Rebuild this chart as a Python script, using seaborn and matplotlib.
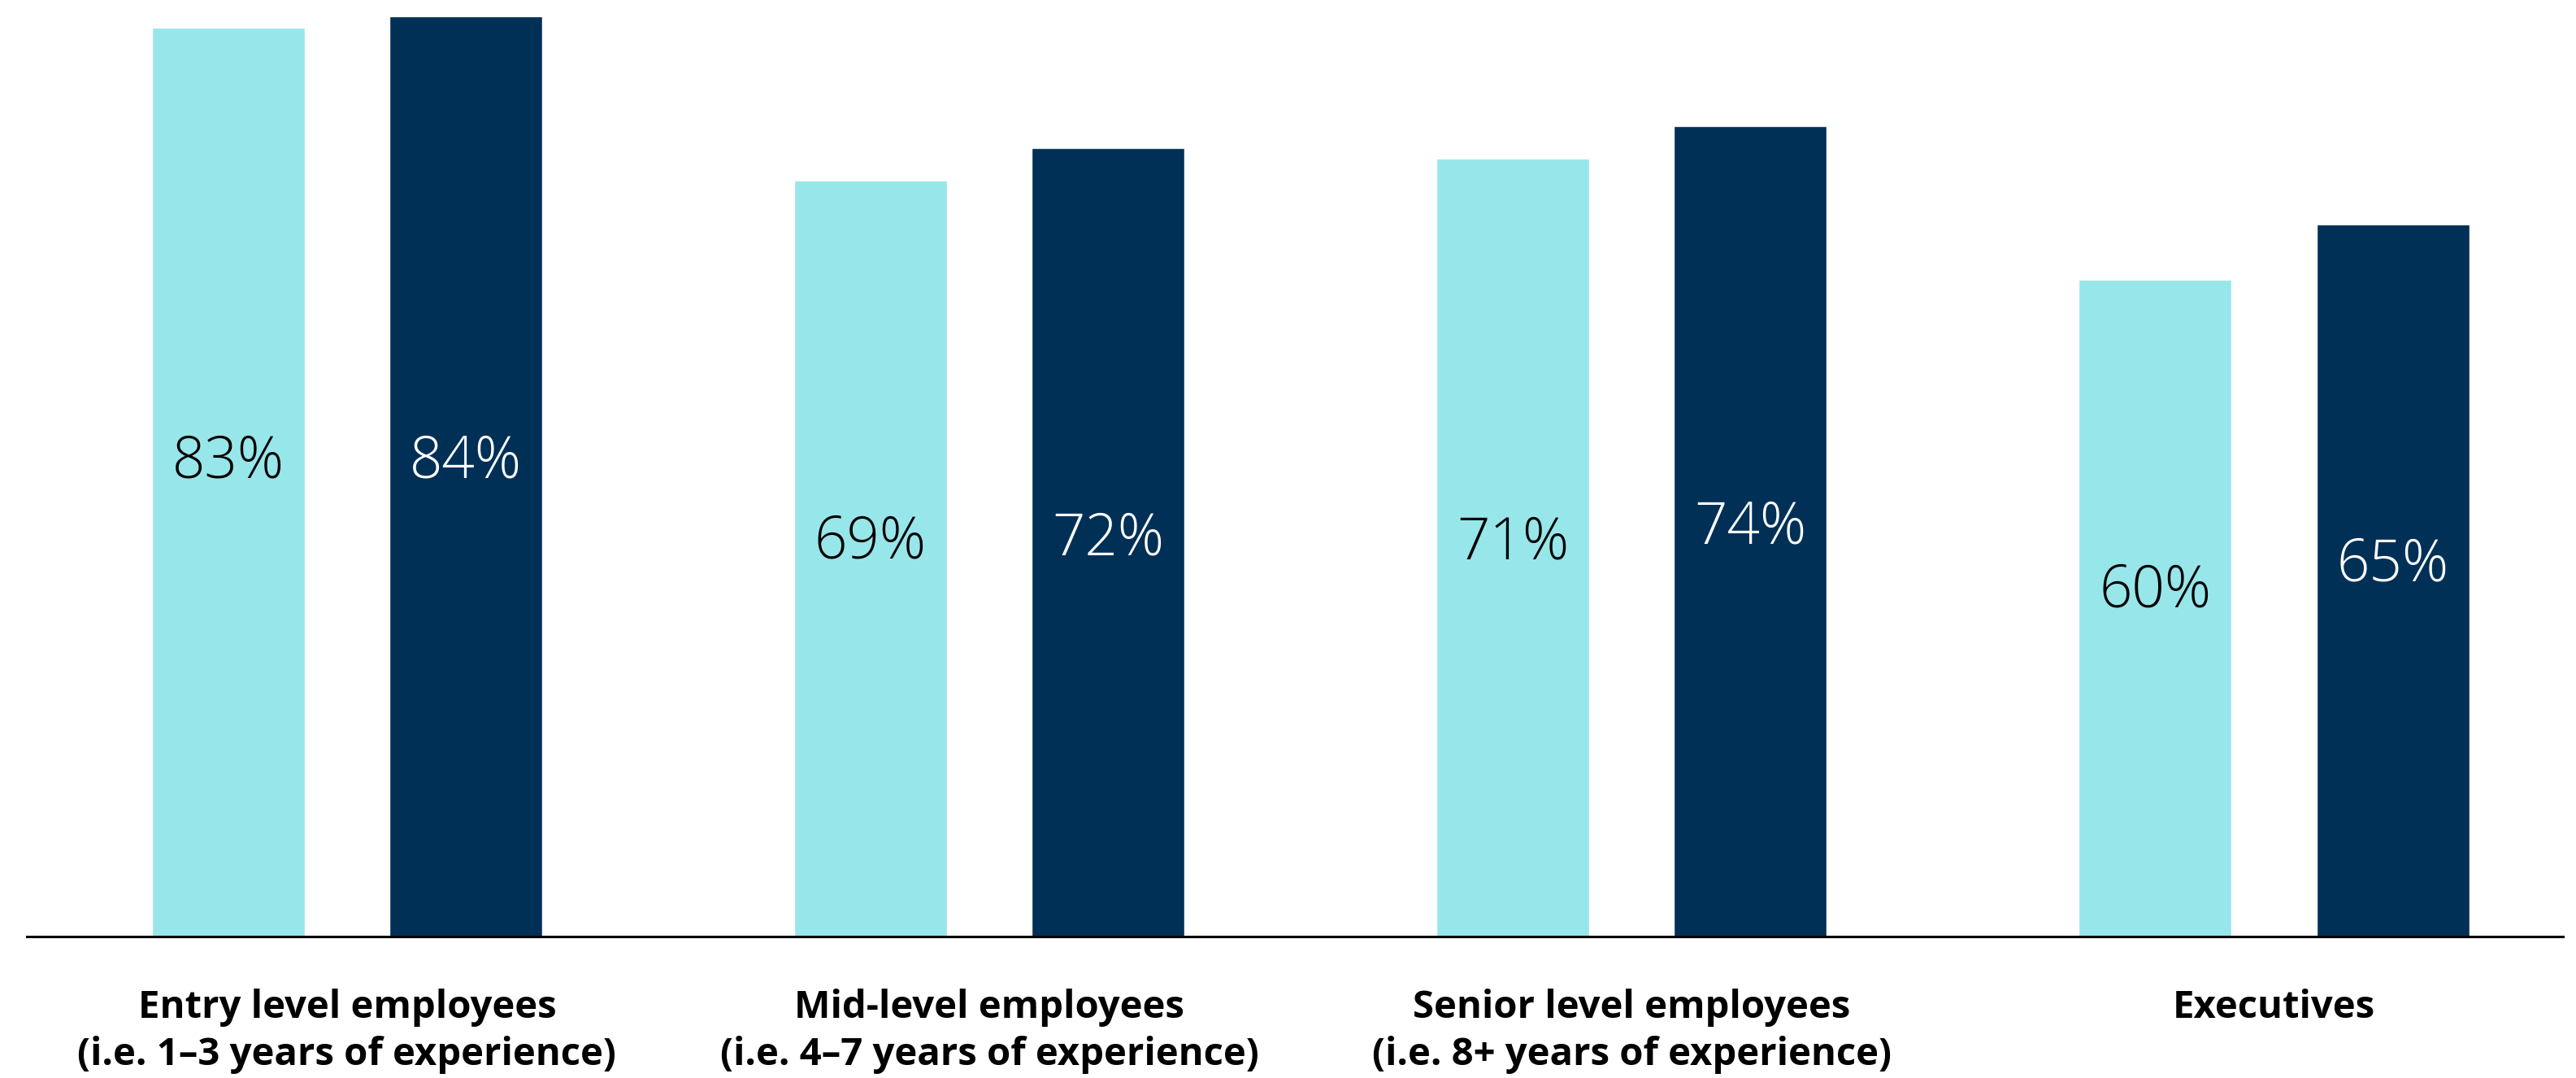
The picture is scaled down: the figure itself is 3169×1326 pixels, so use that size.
import matplotlib
matplotlib.use("Agg")
import matplotlib.pyplot as plt
import matplotlib.transforms as mtransforms
import pandas as pd
import seaborn as sns

# Chart data
categories = ["Entry level employees", "Mid-level employees",
              "Senior level employees", "Executives"]
subtitles = ["(i.e. 1–3 years of experience)", "(i.e. 4–7 years of experience)",
             "(i.e. 8+ years of experience)", ""]
series_names = ["Series 1", "Series 2"]
values_series1 = [83, 69, 71, 60]
values_series2 = [84, 72, 74, 65]

# Vertical anchor (in value units) of each in-bar percentage label
label_y_series1 = [43.3, 36.0, 35.9, 31.5]
label_y_series2 = [43.3, 36.3, 37.3, 33.9]

LIGHT = "#97E6EA"
DARK = "#013057"

df = pd.DataFrame({
    "category": categories * 2,
    "series": [series_names[0]] * 4 + [series_names[1]] * 4,
    "value": values_series1 + values_series2,
})

sns.set_theme(style="white")
plt.rcParams["font.family"] = ["Open Sans", "DejaVu Sans"]

fig = plt.figure(figsize=(31.69, 13.26), dpi=100)
ax = fig.add_axes([0.01041, 0.131, 0.98454, 0.8547])

sns.barplot(data=df, x="category", y="value", hue="series",
            palette=[LIGHT, DARK], saturation=1, width=0.74, gap=0.357,
            dodge=True, legend=False, ax=ax)

ax.set_xlim(-0.4985, 3.45)
ax.set_ylim(0, 84.1)
ax.set_xticks([])
ax.set_yticks([])
ax.set_xlabel("")
ax.set_ylabel("")
for side in ("top", "left", "right"):
    ax.spines[side].set_visible(False)
ax.spines["bottom"].set_color("#000000")
ax.spines["bottom"].set_linewidth(2.2)

# Percentage labels inside the bars
label_sets = [(values_series1, label_y_series1, "#000000"),
              (values_series2, label_y_series2, "#FFFFFF")]
for container, (vals, ys, color) in zip(ax.containers, label_sets):
    for bar, v, y in zip(container, vals, ys):
        cx = bar.get_x() + bar.get_width() / 2
        ax.text(cx, y, f"{v}%", ha="center", va="center", color=color,
                fontsize=51, fontweight="light")

# Two-line category labels under the axis
trans = mtransforms.blended_transform_factory(ax.transData, fig.transFigure)
for i, (title, sub) in enumerate(zip(categories, subtitles)):
    ax.text(i, 0.056, title, transform=trans, ha="center", va="baseline",
            fontsize=34, fontweight="bold", color="#000000")
    if sub:
        ax.text(i, 0.01207, sub, transform=trans, ha="center", va="baseline",
                fontsize=34, fontweight="bold", color="#000000")

fig.savefig("out.png", dpi=100, facecolor="white")
